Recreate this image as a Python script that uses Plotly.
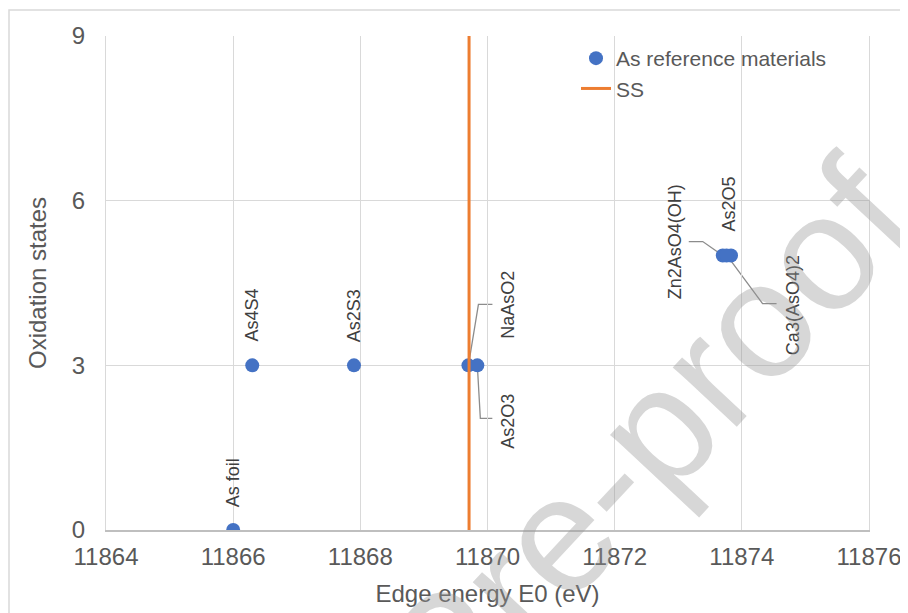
import plotly.graph_objects as go

# ---- data ----
names = ["As foil", "As4S4", "As2S3", "NaAsO2", "As2O3", "Zn2AsO4(OH)", "As2O5", "Ca3(AsO4)2"]
edge_e0 = [11866.0, 11866.3, 11867.9, 11869.70, 11869.84, 11873.70, 11873.83, 11873.76]
ox_state = [0, 3, 3, 3, 3, 5, 5, 5]
ss_e0 = 11869.71
ss_y = [0, 9]
x_ticks = [11864, 11866, 11868, 11870, 11872, 11874, 11876]
y_ticks = [0, 3, 6, 9]

# ---- label placement (pixel offsets from each point: dx, dy(up)) ----
label_off = {
    "As foil": (0, 47),
    "As4S4": (0, 50),
    "As2S3": (0, 50),
    "NaAsO2": (40, 61),
    "As2O3": (31, -56),
    "Zn2AsO4(OH)": (-48, 14),
    "As2O5": (-2, 51),
    "Ca3(AsO4)2": (66, -50),
}
leader_path = {
    "NaAsO2": "M0,0 L10,61 L24,61",
    "As2O3": "M0,0 L3,-53 L15,-53",
    "Zn2AsO4(OH)": "M0,0 L-20,14 L-34,14",
    "Ca3(AsO4)2": "M2,-2 L36,-48 L50,-48",
}

FONT = "Liberation Sans, Arial, sans-serif"
BLUE = "#4472C4"
ORANGE = "#ED7D31"
GRID = "#d9d9d9"

# page body has an 8px margin; plot area spans window px 106..869 x 36..530
PX0, PX1, PY0, PY1 = 106, 869, 36, 530


def px_x(p):
    return (p - PX0) / (PX1 - PX0)


def px_y(p):
    return (PY1 - p) / (PY1 - PY0)


fig = go.Figure()
fig.add_trace(go.Scatter(
    x=edge_e0, y=ox_state, mode="markers", name="As reference materials",
    marker=dict(color=BLUE, size=14), showlegend=True,
))
fig.add_trace(go.Scatter(
    x=[ss_e0, ss_e0], y=ss_y, mode="lines", name="SS",
    line=dict(color=ORANGE, width=3),
))

annotations = []
shapes = []
for n, xv, yv in zip(names, edge_e0, ox_state):
    dx, dy = label_off[n]
    annotations.append(dict(
        x=xv, y=yv, xref="x", yref="y", text=n, showarrow=False,
        textangle=-90, xanchor="center", yanchor="middle",
        xshift=dx, yshift=dy, font=dict(family=FONT, size=18, color="#404040"),
    ))
    if n in leader_path:
        shapes.append(dict(
            type="path", xref="x", yref="y", xsizemode="pixel", ysizemode="pixel",
            xanchor=xv, yanchor=yv, path=leader_path[n],
            line=dict(color="#8c8c8c", width=1.3), layer="below",
        ))

# watermark
annotations.append(dict(
    x=px_x(447), y=px_y(654), xref="paper", yref="paper",
    text="Journal Pre-proof",
    showarrow=False, textangle=-47, xanchor="center", yanchor="middle",
    font=dict(family=FONT, size=165, color="rgba(150,150,150,0.38)"),
))

# outer chart border
shapes.append(dict(
    type="rect", xref="paper", yref="paper",
    x0=px_x(9), x1=px_x(915), y0=px_y(620), y1=px_y(10),
    line=dict(color=GRID, width=1.5), fillcolor="rgba(0,0,0,0)", layer="below",
))

fig.update_layout(
    width=900, height=605,
    margin=dict(l=PX0 - 8, r=900 - (PX1 - 8), t=PY0 - 8, b=605 - (PY1 - 8), autoexpand=False),
    paper_bgcolor="white", plot_bgcolor="white",
    font=dict(family=FONT, color="#595959"),
    showlegend=True,
    legend=dict(
        x=px_x(576), y=px_y(38), xanchor="left", yanchor="top",
        bgcolor="rgba(0,0,0,0)", font=dict(family=FONT, size=21, color="#595959"),
        tracegroupgap=0,
    ),
    annotations=annotations,
    shapes=shapes,
)
fig.update_xaxes(
    range=[11864, 11876], tickvals=x_ticks, ticktext=[str(v) for v in x_ticks],
    showgrid=True, gridcolor=GRID, gridwidth=1.3, zeroline=False,
    showline=True, linecolor="#bfbfbf", linewidth=1.5, mirror=False,
    ticks="", tickfont=dict(family=FONT, size=24, color="#595959"),
    ticklabelstandoff=4, automargin=False,
    title=dict(text="Edge energy E0 (eV)", font=dict(family=FONT, size=24, color="#595959"), standoff=17),
)
fig.update_yaxes(
    range=[0, 9], tickvals=y_ticks,
    showgrid=True, gridcolor=GRID, gridwidth=1.3, zeroline=False,
    showline=True, linecolor=GRID, linewidth=1.3, mirror=True,
    ticks="", tickfont=dict(family=FONT, size=24, color="#595959"),
    ticklabelstandoff=15, automargin=False,
    title=dict(text="Oxidation states", font=dict(family=FONT, size=24, color="#595959"), standoff=18),
)
fig.write_html("out.html")
